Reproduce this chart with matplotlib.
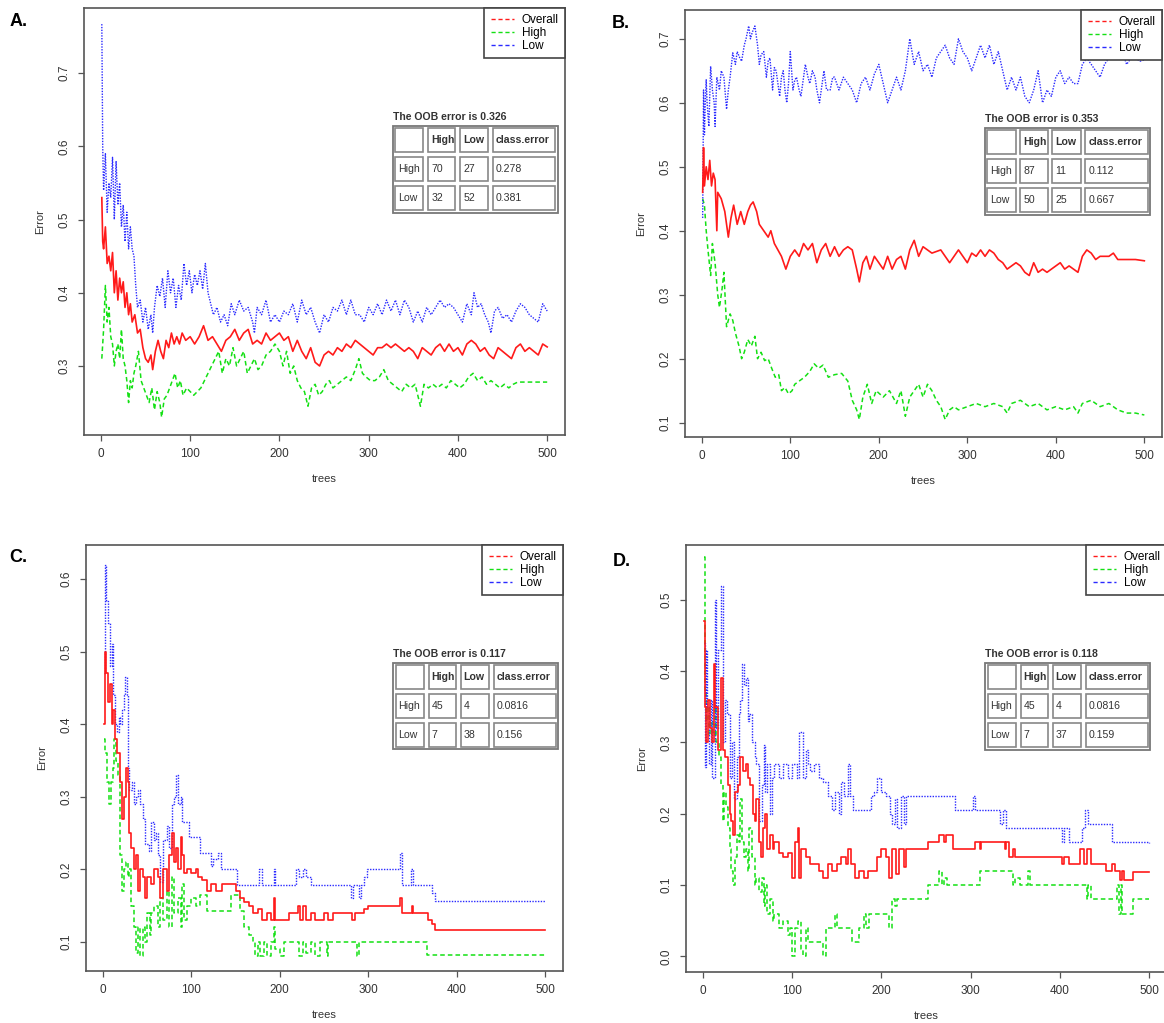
import matplotlib
matplotlib.use("Agg")
import matplotlib.pyplot as plt
from matplotlib.patches import Rectangle
from matplotlib.lines import Line2D

plt.rcParams['font.family'] = ['Liberation Sans', 'DejaVu Sans']

# ---------------- Panel A ----------------
A_LOW_T = [1, 2, 3, 5, 7, 9, 11, 13, 15, 17, 19, 21, 23, 25, 27, 29, 31, 33, 35, 37, 39, 41, 44, 47, 50,
           53, 56, 58, 60, 63, 66, 69, 72, 75, 78, 81, 84, 87, 90, 93, 96, 99, 102, 105, 108, 111, 114,
           117, 120, 123, 126, 130, 134, 138, 142, 146, 150, 155, 160, 165, 170, 172, 175, 180, 185,
           190, 195, 200, 205, 210, 215, 220, 225, 230, 235, 240, 245, 250, 255, 260, 265, 270, 275,
           280, 285, 290, 295, 300, 305, 310, 315, 320, 325, 330, 335, 340, 345, 350, 355, 360, 365,
           370, 375, 380, 385, 390, 395, 400, 405, 410, 415, 418, 422, 426, 430, 434, 437, 441, 445,
           450, 455, 460, 465, 470, 475, 480, 485, 490, 495, 500]
A_LOW = [0.767, 0.60, 0.54, 0.59, 0.51, 0.55, 0.53, 0.585, 0.50, 0.58, 0.52, 0.55, 0.49, 0.52, 0.47,
         0.51, 0.46, 0.49, 0.46, 0.45, 0.41, 0.38, 0.39, 0.36, 0.38, 0.35, 0.37, 0.345, 0.38, 0.41,
         0.395, 0.42, 0.38, 0.43, 0.40, 0.42, 0.38, 0.41, 0.39, 0.44, 0.41, 0.43, 0.40, 0.425, 0.41,
         0.43, 0.405, 0.44, 0.40, 0.385, 0.37, 0.38, 0.36, 0.37, 0.355, 0.385, 0.37, 0.39, 0.375,
         0.38, 0.36, 0.345, 0.38, 0.37, 0.39, 0.36, 0.37, 0.36, 0.375, 0.37, 0.385, 0.36, 0.39, 0.37,
         0.38, 0.36, 0.345, 0.37, 0.36, 0.38, 0.375, 0.39, 0.37, 0.39, 0.37, 0.37, 0.36, 0.38, 0.37,
         0.385, 0.37, 0.39, 0.375, 0.39, 0.37, 0.39, 0.38, 0.36, 0.375, 0.36, 0.38, 0.37, 0.38, 0.39,
         0.38, 0.385, 0.38, 0.37, 0.36, 0.385, 0.37, 0.40, 0.38, 0.385, 0.37, 0.36, 0.345, 0.375,
         0.38, 0.365, 0.37, 0.36, 0.375, 0.385, 0.38, 0.37, 0.365, 0.36, 0.385, 0.375]

A_ALL_T = [1, 2, 3, 5, 7, 9, 11, 13, 15, 17, 19, 21, 23, 25, 27, 29, 31, 33, 35, 38, 41, 44, 47, 50, 53,
           56, 58, 61, 64, 67, 70, 73, 76, 79, 82, 85, 88, 91, 95, 100, 105, 110, 115, 120, 125, 130,
           135, 140, 145, 150, 155, 160, 165, 170, 175, 180, 185, 190, 195, 200, 205, 210, 215, 220,
           225, 230, 235, 240, 245, 250, 255, 260, 265, 270, 275, 280, 285, 290, 295, 300, 305, 310,
           315, 320, 325, 330, 335, 340, 345, 350, 355, 360, 365, 370, 375, 380, 385, 390, 395, 400,
           405, 410, 415, 420, 425, 430, 435, 440, 445, 450, 455, 460, 465, 470, 475, 480, 485, 490,
           495, 500]
A_ALL = [0.53, 0.47, 0.46, 0.49, 0.44, 0.45, 0.43, 0.455, 0.40, 0.43, 0.39, 0.42, 0.40, 0.415, 0.38,
         0.40, 0.37, 0.385, 0.36, 0.37, 0.345, 0.35, 0.325, 0.31, 0.305, 0.315, 0.295, 0.32, 0.335,
         0.32, 0.31, 0.335, 0.325, 0.345, 0.33, 0.34, 0.33, 0.345, 0.335, 0.34, 0.33, 0.34, 0.355,
         0.335, 0.34, 0.33, 0.32, 0.335, 0.34, 0.35, 0.335, 0.345, 0.35, 0.33, 0.335, 0.33, 0.345,
         0.335, 0.34, 0.345, 0.335, 0.34, 0.32, 0.335, 0.32, 0.31, 0.325, 0.305, 0.30, 0.315, 0.32,
         0.315, 0.325, 0.32, 0.33, 0.325, 0.335, 0.33, 0.325, 0.32, 0.315, 0.325, 0.325, 0.33, 0.325,
         0.33, 0.325, 0.32, 0.325, 0.32, 0.31, 0.325, 0.32, 0.315, 0.325, 0.33, 0.32, 0.33, 0.32,
         0.325, 0.315, 0.33, 0.335, 0.33, 0.32, 0.325, 0.315, 0.31, 0.325, 0.32, 0.315, 0.31, 0.325,
         0.33, 0.32, 0.325, 0.32, 0.315, 0.33, 0.326]

A_HIGH_T = [1, 2, 3, 5, 7, 9, 11, 13, 15, 17, 19, 21, 23, 25, 27, 29, 31, 33, 35, 37, 39, 42, 45, 48,
            51, 54, 57, 60, 63, 66, 68, 71, 74, 77, 80, 83, 86, 89, 92, 96, 100, 104, 108, 112, 116,
            120, 124, 128, 132, 136, 140, 144, 148, 152, 156, 160, 164, 168, 172, 176, 180, 185, 190,
            195, 200, 204, 208, 212, 216, 220, 224, 228, 232, 236, 240, 244, 248, 252, 256, 260, 265,
            270, 275, 280, 285, 289, 293, 297, 302, 307, 312, 317, 322, 327, 332, 337, 342, 347, 352,
            358, 362, 367, 372, 377, 382, 387, 392, 397, 402, 407, 412, 417, 422, 427, 432, 437, 442,
            447, 452, 457, 462, 467, 500]
A_HIGH = [0.31, 0.33, 0.35, 0.41, 0.36, 0.38, 0.34, 0.33, 0.30, 0.32, 0.33, 0.31, 0.35, 0.31, 0.30,
          0.28, 0.25, 0.28, 0.27, 0.29, 0.30, 0.32, 0.28, 0.27, 0.26, 0.25, 0.27, 0.24, 0.265, 0.25,
          0.23, 0.255, 0.26, 0.27, 0.28, 0.29, 0.27, 0.28, 0.26, 0.27, 0.265, 0.26, 0.265, 0.27, 0.28,
          0.29, 0.30, 0.31, 0.32, 0.29, 0.31, 0.30, 0.325, 0.30, 0.31, 0.32, 0.29, 0.30, 0.31, 0.295,
          0.30, 0.315, 0.32, 0.33, 0.32, 0.30, 0.32, 0.29, 0.30, 0.28, 0.27, 0.265, 0.245, 0.27,
          0.275, 0.26, 0.265, 0.275, 0.28, 0.27, 0.275, 0.28, 0.285, 0.28, 0.295, 0.31, 0.29, 0.285,
          0.28, 0.28, 0.285, 0.295, 0.28, 0.275, 0.27, 0.265, 0.275, 0.27, 0.275, 0.245, 0.275, 0.27,
          0.275, 0.27, 0.275, 0.27, 0.28, 0.275, 0.27, 0.275, 0.285, 0.29, 0.28, 0.285, 0.275, 0.28,
          0.275, 0.27, 0.275, 0.27, 0.275, 0.278, 0.278]

# ---------------- Panel B ----------------
B_LOW_T = [1, 2, 3, 4, 5, 6, 8, 10, 12, 14, 15, 17, 20, 22, 25, 28, 30, 32, 35, 38, 40, 43, 45, 48, 50,
           53, 55, 57, 60, 63, 65, 67, 70, 73, 75, 77, 80, 82, 84, 86, 88, 90, 92, 94, 96, 98, 100,
           103, 105, 107, 110, 112, 115, 117, 120, 122, 125, 128, 130, 133, 136, 138, 141, 145, 148,
           150, 155, 160, 165, 170, 175, 180, 185, 190, 195, 200, 205, 210, 215, 220, 225, 230, 235,
           240, 245, 250, 255, 260, 265, 270, 275, 280, 285, 290, 295, 300, 305, 310, 315, 320, 325,
           330, 335, 340, 345, 350, 355, 360, 365, 370, 375, 380, 385, 390, 395, 400, 405, 410, 415,
           420, 425, 430, 435, 440, 445, 450, 455, 460, 465, 470, 475, 480, 485, 490, 495, 500]
B_LOW = [0.42, 0.62, 0.55, 0.60, 0.636, 0.60, 0.563, 0.657, 0.62, 0.60, 0.563, 0.64, 0.62, 0.65, 0.64,
         0.59, 0.62, 0.64, 0.678, 0.66, 0.68, 0.67, 0.665, 0.69, 0.70, 0.72, 0.70, 0.71, 0.72, 0.69,
         0.66, 0.675, 0.68, 0.64, 0.665, 0.67, 0.62, 0.655, 0.65, 0.63, 0.61, 0.64, 0.65, 0.62, 0.60,
         0.63, 0.68, 0.62, 0.635, 0.64, 0.62, 0.61, 0.64, 0.66, 0.64, 0.63, 0.65, 0.64, 0.62, 0.60,
         0.63, 0.65, 0.62, 0.62, 0.64, 0.64, 0.62, 0.64, 0.63, 0.62, 0.60, 0.63, 0.64, 0.62, 0.645,
         0.66, 0.63, 0.60, 0.62, 0.64, 0.62, 0.65, 0.70, 0.66, 0.68, 0.65, 0.66, 0.64, 0.67, 0.68,
         0.69, 0.67, 0.66, 0.70, 0.68, 0.67, 0.65, 0.67, 0.69, 0.67, 0.69, 0.66, 0.68, 0.65, 0.62,
         0.64, 0.62, 0.64, 0.61, 0.60, 0.62, 0.65, 0.60, 0.62, 0.61, 0.64, 0.65, 0.63, 0.64, 0.63,
         0.63, 0.66, 0.67, 0.66, 0.65, 0.64, 0.66, 0.67, 0.68, 0.67, 0.68, 0.66, 0.67, 0.67, 0.665,
         0.667]

B_ALL_T = [1, 2, 3, 5, 7, 9, 11, 13, 15, 17, 18, 22, 26, 30, 33, 36, 40, 44, 48, 52, 55, 58, 62, 65, 70,
           75, 78, 82, 86, 90, 95, 100, 105, 110, 115, 120, 125, 130, 135, 140, 145, 150, 155, 160,
           165, 170, 175, 178, 182, 186, 190, 195, 200, 205, 210, 215, 220, 225, 230, 235, 240, 245,
           250, 255, 260, 270, 275, 280, 285, 290, 295, 300, 305, 310, 315, 320, 325, 330, 335, 340,
           345, 350, 355, 360, 365, 370, 375, 380, 385, 390, 395, 400, 405, 410, 415, 420, 425, 430,
           435, 440, 445, 450, 460, 465, 470, 480, 490, 500]
B_ALL = [0.46, 0.53, 0.47, 0.50, 0.48, 0.51, 0.47, 0.49, 0.48, 0.40, 0.46, 0.45, 0.43, 0.39, 0.42, 0.44,
         0.41, 0.43, 0.41, 0.43, 0.44, 0.445, 0.43, 0.41, 0.40, 0.39, 0.40, 0.38, 0.37, 0.36, 0.34,
         0.36, 0.37, 0.36, 0.38, 0.37, 0.38, 0.35, 0.37, 0.38, 0.36, 0.375, 0.36, 0.37, 0.375, 0.37,
         0.34, 0.32, 0.35, 0.36, 0.34, 0.36, 0.35, 0.34, 0.36, 0.34, 0.355, 0.36, 0.34, 0.37, 0.385,
         0.36, 0.375, 0.37, 0.365, 0.37, 0.36, 0.35, 0.36, 0.37, 0.36, 0.35, 0.365, 0.36, 0.37, 0.36,
         0.37, 0.365, 0.355, 0.35, 0.34, 0.345, 0.35, 0.345, 0.335, 0.33, 0.35, 0.335, 0.34, 0.335,
         0.34, 0.345, 0.35, 0.34, 0.345, 0.34, 0.335, 0.36, 0.37, 0.365, 0.355, 0.36, 0.36, 0.365,
         0.355, 0.355, 0.355, 0.353]

B_HIGH_T = [1, 3, 5, 7, 10, 12, 15, 18, 20, 23, 25, 28, 32, 35, 38, 42, 45, 48, 52, 56, 60, 63, 67, 71,
            75, 79, 83, 87, 90, 94, 98, 102, 105, 110, 116, 122, 127, 132, 137, 143, 150, 158, 165,
            170, 175, 178, 182, 187, 192, 197, 205, 212, 220, 225, 230, 235, 240, 245, 250, 255, 260,
            265, 270, 275, 280, 285, 290, 300, 310, 320, 330, 340, 345, 350, 360, 370, 380, 390, 400,
            410, 420, 425, 430, 440, 450, 460, 470, 480, 490, 500]
B_HIGH = [0.45, 0.44, 0.40, 0.37, 0.33, 0.38, 0.35, 0.30, 0.28, 0.31, 0.335, 0.25, 0.27, 0.26, 0.24,
          0.22, 0.20, 0.21, 0.23, 0.22, 0.235, 0.20, 0.21, 0.197, 0.20, 0.185, 0.171, 0.175, 0.15,
          0.155, 0.145, 0.15, 0.16, 0.165, 0.171, 0.18, 0.192, 0.185, 0.19, 0.171, 0.175, 0.177,
          0.165, 0.135, 0.12, 0.105, 0.14, 0.16, 0.13, 0.15, 0.14, 0.15, 0.13, 0.15, 0.11, 0.14,
          0.15, 0.16, 0.14, 0.16, 0.15, 0.135, 0.125, 0.105, 0.12, 0.125, 0.12, 0.125, 0.13, 0.125,
          0.13, 0.125, 0.115, 0.13, 0.135, 0.125, 0.13, 0.12, 0.125, 0.12, 0.125, 0.115, 0.13,
          0.135, 0.125, 0.13, 0.12, 0.115, 0.115, 0.112]

# ---------------- Panel C ----------------
C_LOW_T = [1, 2, 4, 6, 8, 10, 12, 14, 16, 18, 20, 22, 24, 25, 27, 28, 30, 33, 35, 38, 40, 42, 45, 48,
           52, 55, 58, 60, 62, 65, 68, 72, 75, 78, 80, 83, 85, 88, 90, 97, 110, 122, 125, 130, 133,
           152, 177, 180, 193, 195, 218, 222, 226, 230, 235, 281, 283, 290, 292, 295, 298, 336, 338,
           348, 350, 372, 375, 500]
C_LOW = [0.47, 0.62, 0.57, 0.54, 0.48, 0.51, 0.44, 0.40, 0.39, 0.41, 0.40, 0.42, 0.44, 0.465, 0.44,
         0.34, 0.31, 0.32, 0.29, 0.30, 0.31, 0.29, 0.27, 0.235, 0.225, 0.266, 0.24, 0.25, 0.22, 0.183,
         0.24, 0.26, 0.23, 0.29, 0.30, 0.33, 0.29, 0.30, 0.265, 0.245, 0.223, 0.205, 0.215, 0.223,
         0.20, 0.178, 0.20, 0.178, 0.20, 0.178, 0.20, 0.19, 0.20, 0.19, 0.178, 0.16, 0.178, 0.16,
         0.178, 0.19, 0.20, 0.222, 0.178, 0.20, 0.178, 0.167, 0.156, 0.156]

C_ALL_T = [1, 2, 4, 6, 8, 10, 12, 14, 16, 18, 20, 22, 24, 26, 28, 30, 32, 35, 37, 40, 42, 45, 48, 50, 55,
           58, 62, 65, 68, 72, 75, 78, 80, 83, 85, 88, 90, 92, 95, 100, 105, 108, 112, 118, 122, 128,
           135, 150, 155, 160, 165, 170, 175, 180, 185, 190, 193, 195, 210, 220, 223, 226, 230, 235,
           240, 250, 255, 260, 282, 285, 295, 300, 336, 338, 349, 350, 368, 372, 375, 500]
C_ALL = [0.40, 0.50, 0.47, 0.43, 0.455, 0.40, 0.42, 0.38, 0.36, 0.36, 0.32, 0.27, 0.30, 0.34, 0.32,
         0.25, 0.23, 0.20, 0.22, 0.17, 0.20, 0.19, 0.16, 0.19, 0.18, 0.20, 0.19, 0.16, 0.20, 0.17,
         0.22, 0.25, 0.21, 0.23, 0.20, 0.245, 0.22, 0.195, 0.20, 0.195, 0.20, 0.19, 0.185, 0.17, 0.18,
         0.17, 0.18, 0.17, 0.16, 0.155, 0.15, 0.14, 0.145, 0.13, 0.14, 0.13, 0.16, 0.13, 0.14, 0.15,
         0.13, 0.15, 0.13, 0.14, 0.13, 0.14, 0.13, 0.14, 0.13, 0.14, 0.145, 0.15, 0.16, 0.14, 0.15,
         0.14, 0.13, 0.125, 0.117, 0.117]

C_HIGH_T = [1, 3, 5, 7, 9, 11, 13, 15, 17, 19, 20, 22, 24, 26, 28, 30, 32, 35, 37, 40, 42, 45, 48, 50,
            53, 55, 58, 62, 65, 68, 72, 75, 78, 80, 85, 88, 90, 92, 95, 100, 105, 110, 118, 145, 155,
            160, 165, 170, 172, 175, 178, 182, 185, 190, 193, 195, 200, 205, 222, 226, 230, 235, 240,
            245, 253, 255, 287, 290, 366, 500]
C_HIGH = [0.38, 0.36, 0.32, 0.29, 0.32, 0.34, 0.38, 0.35, 0.33, 0.29, 0.22, 0.17, 0.20, 0.21, 0.19,
          0.20, 0.15, 0.12, 0.085, 0.12, 0.08, 0.12, 0.10, 0.14, 0.11, 0.14, 0.15, 0.12, 0.16, 0.13,
          0.17, 0.12, 0.19, 0.14, 0.16, 0.12, 0.18, 0.13, 0.15, 0.16, 0.15, 0.165, 0.143, 0.165, 0.143,
          0.12, 0.11, 0.10, 0.08, 0.10, 0.08, 0.10, 0.08, 0.10, 0.12, 0.09, 0.08, 0.10, 0.08, 0.10,
          0.085, 0.10, 0.08, 0.10, 0.08, 0.10, 0.08, 0.10, 0.082, 0.082]

# ---------------- Panel D ----------------
D_LOW_T = [1, 2, 3, 5, 7, 9, 10, 13, 15, 17, 20, 22, 25, 27, 30, 33, 35, 38, 40, 42, 44, 46, 48, 50, 52,
           55, 58, 60, 63, 66, 68, 70, 72, 75, 77, 80, 85, 90, 95, 100, 105, 108, 112, 115, 118, 120,
           125, 130, 135, 140, 145, 148, 152, 155, 158, 162, 165, 168, 188, 192, 195, 200, 205, 210,
           212, 215, 218, 222, 225, 228, 282, 303, 305, 333, 336, 340, 402, 405, 410, 425, 428, 432,
           458, 500]
D_LOW = [0.44, 0.265, 0.43, 0.35, 0.27, 0.36, 0.25, 0.50, 0.32, 0.43, 0.52, 0.30, 0.36, 0.34, 0.25,
         0.30, 0.22, 0.28, 0.34, 0.36, 0.41, 0.38, 0.39, 0.33, 0.34, 0.30, 0.28, 0.27, 0.19, 0.24,
         0.296, 0.23, 0.27, 0.20, 0.25, 0.27, 0.25, 0.27, 0.25, 0.27, 0.25, 0.315, 0.25, 0.29, 0.27,
         0.26, 0.27, 0.25, 0.245, 0.225, 0.205, 0.23, 0.20, 0.245, 0.225, 0.27, 0.225, 0.205, 0.225,
         0.23, 0.25, 0.23, 0.225, 0.20, 0.185, 0.22, 0.18, 0.225, 0.185, 0.225, 0.205, 0.225, 0.205,
         0.185, 0.205, 0.18, 0.16, 0.18, 0.16, 0.18, 0.205, 0.185, 0.16, 0.159]

D_ALL_T = [1, 2, 4, 6, 8, 10, 12, 14, 17, 20, 22, 25, 28, 30, 32, 34, 36, 39, 42, 45, 48, 50, 53, 56, 58,
           60, 63, 65, 67, 70, 72, 75, 78, 80, 85, 90, 95, 100, 103, 106, 108, 110, 115, 120, 130,
           135, 140, 145, 150, 155, 160, 163, 166, 170, 175, 180, 185, 195, 200, 205, 208, 212, 216,
           220, 225, 228, 252, 265, 270, 272, 280, 305, 310, 312, 338, 340, 343, 347, 350, 402, 405,
           410, 423, 427, 430, 435, 452, 458, 462, 467, 470, 472, 482, 500]
D_ALL = [0.47, 0.35, 0.30, 0.36, 0.32, 0.30, 0.41, 0.35, 0.29, 0.39, 0.29, 0.28, 0.24, 0.20, 0.19,
         0.17, 0.23, 0.24, 0.28, 0.26, 0.27, 0.25, 0.24, 0.20, 0.19, 0.22, 0.16, 0.14, 0.18, 0.20,
         0.15, 0.17, 0.15, 0.16, 0.145, 0.14, 0.145, 0.11, 0.16, 0.18, 0.11, 0.15, 0.14, 0.13, 0.12,
         0.11, 0.13, 0.12, 0.13, 0.14, 0.13, 0.15, 0.13, 0.11, 0.12, 0.11, 0.12, 0.14, 0.15, 0.14,
         0.11, 0.15, 0.115, 0.15, 0.125, 0.15, 0.16, 0.17, 0.16, 0.17, 0.15, 0.16, 0.15, 0.16, 0.15,
         0.16, 0.14, 0.15, 0.14, 0.13, 0.14, 0.13, 0.15, 0.13, 0.15, 0.13, 0.12, 0.13, 0.12, 0.107,
         0.12, 0.107, 0.118, 0.118]

D_HIGH_T = [1, 2, 3, 5, 7, 9, 11, 13, 15, 18, 20, 22, 24, 26, 28, 30, 32, 34, 36, 38, 40, 42, 44, 46, 48,
            50, 52, 55, 58, 60, 63, 66, 68, 70, 72, 75, 78, 80, 85, 90, 95, 98, 100, 103, 106, 110,
            112, 115, 118, 135, 138, 148, 150, 167, 175, 180, 183, 186, 209, 212, 215, 218, 252, 265,
            268, 270, 273, 310, 347, 350, 355, 364, 366, 430, 432, 435, 464, 466, 468, 470, 482, 500]
D_HIGH = [0.56, 0.37, 0.33, 0.35, 0.31, 0.33, 0.31, 0.35, 0.30, 0.28, 0.24, 0.19, 0.23, 0.21, 0.18,
          0.15, 0.12, 0.10, 0.14, 0.17, 0.16, 0.22, 0.16, 0.14, 0.15, 0.12, 0.18, 0.14, 0.10, 0.11,
          0.09, 0.11, 0.07, 0.10, 0.06, 0.08, 0.05, 0.06, 0.04, 0.05, 0.03, 0.04, 0.00, 0.04, 0.05,
          0.01, 0.00, 0.04, 0.02, 0.00, 0.04, 0.06, 0.04, 0.02, 0.04, 0.06, 0.04, 0.06, 0.04, 0.08,
          0.07, 0.08, 0.10, 0.12, 0.10, 0.11, 0.10, 0.12, 0.10, 0.11, 0.10, 0.12, 0.10, 0.08, 0.10,
          0.08, 0.10, 0.06, 0.10, 0.06, 0.08, 0.08]

# confusion matrices shown next to each panel
OOB_ERRORS = ["0.326", "0.353", "0.117", "0.118"]
TABLE_HEAD = ["", "High", "Low", "class.error"]
A_TABLE = [["High", "70", "27", "0.278"], ["Low", "32", "52", "0.381"]]
B_TABLE = [["High", "87", "11", "0.112"], ["Low", "50", "25", "0.667"]]
C_TABLE = [["High", "45", "4", "0.0816"], ["Low", "7", "38", "0.156"]]
D_TABLE = [["High", "45", "4", "0.0816"], ["Low", "7", "37", "0.159"]]

PANEL_LABELS = ["A.", "B.", "C.", "D."]
SERIES_NAMES = ["Overall", "High", "Low"]

RED = "#ff1a1a"
GREEN = "#14e014"
BLUE = "#2a2aff"
AXCOL = "#555555"

W, H = 1164, 1023
fig = plt.figure(figsize=(W / 100, H / 100), dpi=100)


def px_axes(left, top, right, bottom):
    return fig.add_axes([left / W, 1 - bottom / H, (right - left) / W, (bottom - top) / H])


def draw_table(ax, x0, x1, y_top, y_bot, y_title, oob, rows):
    ax.text(x0, y_title, "The OOB error is " + oob, transform=ax.transAxes,
            fontsize=7.6, fontweight="bold", color="#333333", va="center", ha="left")
    ax.add_patch(Rectangle((x0, y_bot), x1 - x0, y_top - y_bot, transform=ax.transAxes,
                           fill=True, facecolor="white", edgecolor="#777777", lw=1.3, clip_on=False))
    fracs = [0.2, 0.194, 0.2, 0.406]
    tw = x1 - x0
    rh = (y_top - y_bot) / 3
    gx, gy = 0.005, 0.006
    all_rows = [TABLE_HEAD] + rows
    for r, row in enumerate(all_rows):
        cx = x0
        cy = y_top - (r + 1) * rh
        for c, txt in enumerate(row):
            cw = fracs[c] * tw
            ax.add_patch(Rectangle((cx + gx, cy + gy), cw - 2 * gx, rh - 2 * gy,
                                   transform=ax.transAxes, fill=False,
                                   edgecolor="#888888", lw=1.2, clip_on=False))
            if txt:
                ax.text(cx + 0.011, cy + rh / 2, txt, transform=ax.transAxes,
                        fontsize=7.6, color="#333333", va="center", ha="left",
                        fontweight="bold" if r == 0 else "normal")
            cx += cw


def draw_panel(ax, low, all_, high, ylim, yticks, steps, oob, rows, tbl):
    ds = "steps-post" if steps else "default"
    ax.plot(all_[0], all_[1], color=RED, lw=1.2, ls="-", drawstyle=ds, zorder=3)
    ax.plot(high[0], high[1], color=GREEN, lw=1.1, ls=(0, (3, 2)), drawstyle=ds, zorder=2)
    ax.plot(low[0], low[1], color=BLUE, lw=1.0, ls=(0, (1, 1)), drawstyle=ds, zorder=2)
    ax.set_xlim(-18.96, 519.96)
    ax.set_ylim(*ylim)
    ax.set_xticks([0, 100, 200, 300, 400, 500])
    ax.set_yticks(yticks)
    ax.set_yticklabels([f"{v:.1f}" for v in yticks], rotation=90, va="center")
    ax.tick_params(length=4, width=0.9, color=AXCOL, labelsize=8.5, labelcolor="#333333", pad=5.5)
    for s in ax.spines.values():
        s.set_color(AXCOL)
        s.set_linewidth(1.2)
    ax.set_xlabel("trees", fontsize=8, color="#333333", labelpad=10)
    ax.set_ylabel("Error", fontsize=8, color="#333333", labelpad=10)
    handles = [Line2D([0], [0], color=c, lw=1.0, ls=(0, (3, 2))) for c in (RED, GREEN, BLUE)]
    leg = ax.legend(handles, SERIES_NAMES, loc="upper right", bbox_to_anchor=(1, 1),
                    borderaxespad=0, fancybox=False, fontsize=8.5, handlelength=2.0,
                    handletextpad=0.6, labelspacing=0.05, borderpad=0.55, framealpha=1)
    leg.get_frame().set_edgecolor("#444444")
    leg.get_frame().set_linewidth(1.2)
    draw_table(ax, tbl[0], tbl[1], 0.724, 0.520, 0.745, oob, rows)


axA = px_axes(84, 8, 565, 435)
draw_panel(axA, (A_LOW_T, A_LOW), (A_ALL_T, A_ALL), (A_HIGH_T, A_HIGH),
           (0.2057, 0.789), [0.3, 0.4, 0.5, 0.6, 0.7], False, OOB_ERRORS[0], A_TABLE, (0.642, 0.985))

axB = px_axes(685, 10, 1162, 437)
draw_panel(axB, (B_LOW_T, B_LOW), (B_ALL_T, B_ALL), (B_HIGH_T, B_HIGH),
           (0.0776, 0.745), [0.1, 0.2, 0.3, 0.4, 0.5, 0.6, 0.7], False, OOB_ERRORS[1], B_TABLE,
           (0.629, 0.975))

axC = px_axes(86, 545, 563, 971)
draw_panel(axC, (C_LOW_T, C_LOW), (C_ALL_T, C_ALL), (C_HIGH_T, C_HIGH),
           (0.060, 0.647), [0.1, 0.2, 0.3, 0.4, 0.5, 0.6], True, OOB_ERRORS[2], C_TABLE,
           (0.644, 0.990))

axD = px_axes(686, 545, 1167, 972)
draw_panel(axD, (D_LOW_T, D_LOW), (D_ALL_T, D_ALL), (D_HIGH_T, D_HIGH),
           (-0.022, 0.577), [0.0, 0.1, 0.2, 0.3, 0.4, 0.5], True, OOB_ERRORS[3], D_TABLE,
           (0.622, 0.965))

for lab, (x, y) in zip(PANEL_LABELS, [(10, 22), (612, 24), (9, 558), (613, 562)]):
    fig.text(x / W, 1 - y / H, lab, fontsize=13, fontweight="bold", va="center", ha="left")

fig.savefig("out.png", dpi=100)
